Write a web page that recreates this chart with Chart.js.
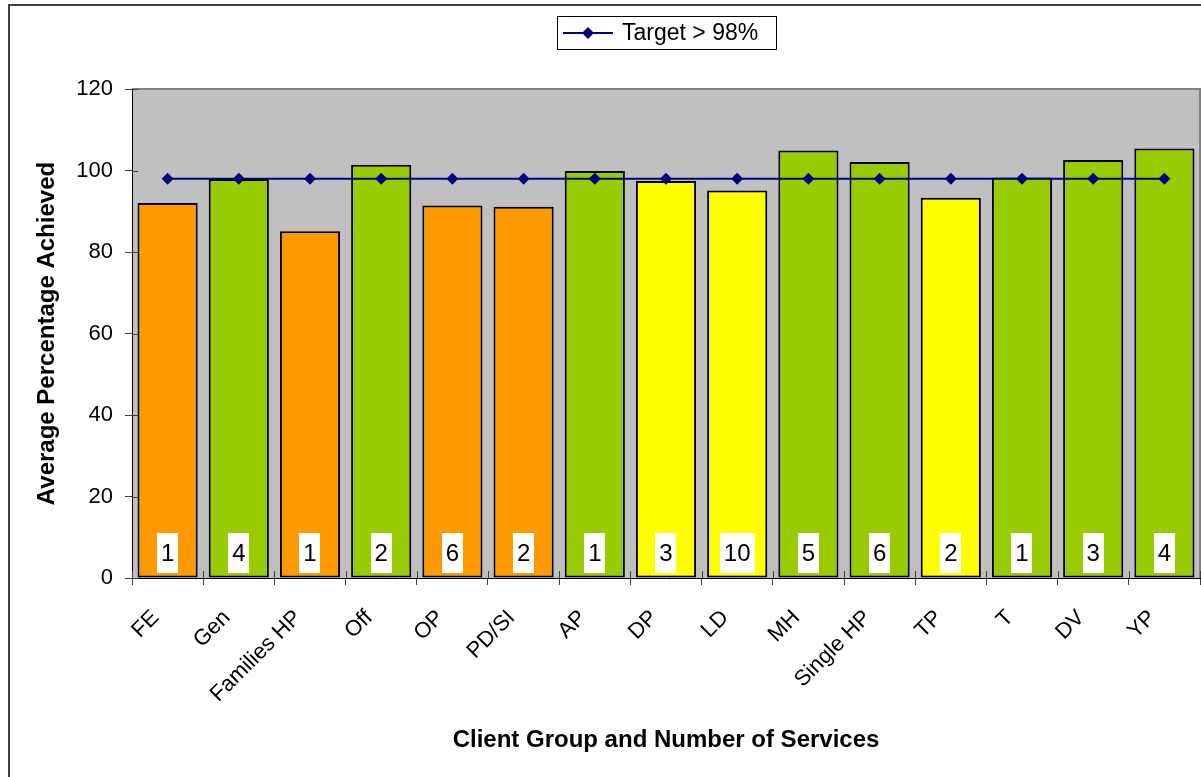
<!DOCTYPE html>
<html>
<head>
<meta charset="utf-8">
<script src="https://cdn.jsdelivr.net/npm/chart.js@4/dist/chart.umd.min.js"></script>
<style>
  html, body { margin: 0; padding: 0; background: #ffffff; }
  canvas { display: block; }
</style>
</head>
<body>
<canvas id="chart" width="1201" height="777"></canvas>
<script>
// Client groups along the x axis
const clientGroups = ['FE', 'Gen', 'Families HP', 'Off', 'OP', 'PD/SI', 'AP', 'DP', 'LD', 'MH', 'Single HP', 'TP', 'T', 'DV', 'YP'];
// Average percentage achieved per client group
const avgAchieved = [92.0, 97.9, 85.1, 101.4, 91.4, 91.1, 99.9, 97.4, 95.1, 104.9, 102.1, 93.3, 98.3, 102.6, 105.4];
// Number of services in each client group
const serviceCounts = [1, 4, 1, 2, 6, 2, 1, 3, 10, 5, 6, 2, 1, 3, 4];
// Performance band of each group against the target
const performanceBand = ['below', 'met', 'below', 'met', 'below', 'below', 'met', 'near', 'near', 'met', 'met', 'near', 'met', 'met', 'met'];
// Target line values
const targetValues = [98, 98, 98, 98, 98, 98, 98, 98, 98, 98, 98, 98, 98, 98, 98];
const targetLabel = 'Target > 98%';
// Y axis tick values
const yTicks = [0, 20, 40, 60, 80, 100, 120];

const FONT = "'Liberation Sans', Arial, sans-serif";
const bandColours = { below: '#FF9900', near: '#FFFF00', met: '#99CC00' };
const NAVY = '#000080';

// Grey plot background, frame, and the outer chart border
const framePlugin = {
  id: 'frame',
  beforeDraw(chart) {
    const { ctx, chartArea: a } = chart;
    ctx.save();
    ctx.fillStyle = '#ffffff';
    ctx.fillRect(0, 0, chart.width, chart.height);
    // outer border
    ctx.strokeStyle = '#404040';
    ctx.lineWidth = 2;
    ctx.beginPath();
    ctx.moveTo(9, chart.height + 2);
    ctx.lineTo(9, 5);
    ctx.lineTo(chart.width + 2, 5);
    ctx.stroke();
    // plot area
    ctx.fillStyle = '#C0C0C0';
    ctx.fillRect(a.left, a.top, a.right - a.left, a.bottom - a.top);
    ctx.strokeStyle = '#808080';
    ctx.lineWidth = 2;
    ctx.beginPath();
    ctx.moveTo(a.left, a.top);
    ctx.lineTo(a.right, a.top);
    ctx.lineTo(a.right, a.bottom);
    ctx.stroke();
    ctx.restore();
  },
  beforeDatasetsDraw(chart) {
    // inner halves of the crossing tick marks
    const { ctx, chartArea: a, scales: { x, y } } = chart;
    ctx.save();
    ctx.strokeStyle = '#404040';
    ctx.lineWidth = 1;
    ctx.beginPath();
    yTicks.forEach(v => {
      const py = Math.round(y.getPixelForValue(v)) + 0.5;
      ctx.moveTo(a.left, py);
      ctx.lineTo(a.left + 6, py);
    });
    const half = (x.getPixelForValue(1) - x.getPixelForValue(0)) / 2;
    for (let i = 0; i <= clientGroups.length; i++) {
      const px = Math.round(x.getPixelForValue(0) - half + i * 2 * half) + 0.5;
      ctx.moveTo(px, a.bottom);
      ctx.lineTo(px, a.bottom - 7);
    }
    ctx.stroke();
    ctx.restore();
  }
};

// White boxes with service counts at the foot of each bar
const countPlugin = {
  id: 'counts',
  afterDatasetsDraw(chart) {
    const { ctx, scales: { y } } = chart;
    const meta = chart.getDatasetMeta(1);
    const base = y.getPixelForValue(0);
    ctx.save();
    ctx.font = '24px ' + FONT;
    ctx.textAlign = 'center';
    ctx.textBaseline = 'middle';
    meta.data.forEach((bar, i) => {
      const txt = String(serviceCounts[i]);
      const w = ctx.measureText(txt).width + 8;
      const h = 40;
      const top = base - 5 - h;
      ctx.fillStyle = '#ffffff';
      ctx.fillRect(Math.round(bar.x - w / 2), top, Math.round(w), h);
      ctx.fillStyle = '#000000';
      ctx.fillText(txt, bar.x, top + h / 2 + 1);
    });
    ctx.restore();
  }
};

// Boxed legend for the target line
const legendPlugin = {
  id: 'targetLegend',
  afterDraw(chart) {
    const { ctx } = chart;
    const bx = 557.5, by = 16.5, bw = 219, bh = 33;
    const cy = by + bh / 2;
    ctx.save();
    ctx.fillStyle = '#ffffff';
    ctx.fillRect(bx, by, bw, bh);
    ctx.strokeStyle = '#000000';
    ctx.lineWidth = 1;
    ctx.strokeRect(bx, by, bw, bh);
    ctx.strokeStyle = NAVY;
    ctx.lineWidth = 2;
    ctx.beginPath();
    ctx.moveTo(563, cy);
    ctx.lineTo(613, cy);
    ctx.stroke();
    ctx.fillStyle = NAVY;
    ctx.beginPath();
    ctx.moveTo(588, cy - 6);
    ctx.lineTo(594, cy);
    ctx.lineTo(588, cy + 6);
    ctx.lineTo(582, cy);
    ctx.closePath();
    ctx.fill();
    ctx.fillStyle = '#000000';
    ctx.font = '23px ' + FONT;
    ctx.textAlign = 'left';
    ctx.textBaseline = 'middle';
    ctx.fillText(targetLabel, 622, cy + 1);
    ctx.restore();
  }
};

new Chart(document.getElementById('chart'), {
  data: {
    labels: clientGroups,
    datasets: [
      {
        type: 'line',
        label: targetLabel,
        data: targetValues,
        borderColor: NAVY,
        backgroundColor: NAVY,
        borderWidth: 2,
        pointStyle: 'rectRot',
        pointRadius: 6,
        pointHoverRadius: 6,
        pointBackgroundColor: NAVY,
        pointBorderColor: NAVY,
        pointBorderWidth: 0,
        tension: 0,
        order: 0
      },
      {
        type: 'bar',
        label: 'Average Percentage Achieved',
        data: avgAchieved,
        backgroundColor: performanceBand.map(b => bandColours[b]),
        borderColor: '#000000',
        borderWidth: 2,
        borderSkipped: false,
        categoryPercentage: 1.0,
        barPercentage: 0.845,
        order: 1
      }
    ]
  },
  options: {
    responsive: false,
    animation: false,
    events: [],
    layout: { autoPadding: false, padding: { left: 0, top: 89, right: 1, bottom: 0 } },
    plugins: {
      legend: { display: false },
      tooltip: { enabled: false },
      title: { display: false }
    },
    scales: {
      x: {
        type: 'category',
        offset: true,
        grid: { offset: true, drawOnChartArea: false, drawTicks: true, tickLength: 7, color: '#404040' },
        border: { display: true, color: '#000000', width: 1 },
        ticks: {
          autoSkip: false,
          minRotation: 45,
          maxRotation: 45,
          padding: 20,
          labelOffset: -12,
          color: '#000000',
          font: { family: FONT, size: 22 }
        },
        title: {
          display: true,
          text: 'Client Group and Number of Services',
          color: '#000000',
          font: { family: FONT, size: 24, weight: 'bold' },
          padding: { top: 0, bottom: 22 }
        },
        afterFit(scale) {
          scale.height = 199;
          scale.paddingLeft = 0;
          scale.paddingRight = 0;
        }
      },
      y: {
        min: yTicks[0],
        max: yTicks[yTicks.length - 1],
        grid: { drawOnChartArea: false, drawTicks: true, tickLength: 7, color: '#404040' },
        border: { display: true, color: '#000000', width: 1 },
        ticks: {
          stepSize: yTicks[1] - yTicks[0],
          padding: 12,
          color: '#000000',
          font: { family: FONT, size: 22 }
        },
        title: {
          display: true,
          text: 'Average Percentage Achieved',
          color: '#000000',
          font: { family: FONT, size: 24, weight: 'bold' },
          padding: { top: 33, bottom: 0 }
        },
        afterFit(scale) { scale.width = 132; }
      }
    }
  },
  plugins: [framePlugin, countPlugin, legendPlugin]
});
</script>
</body>
</html>
